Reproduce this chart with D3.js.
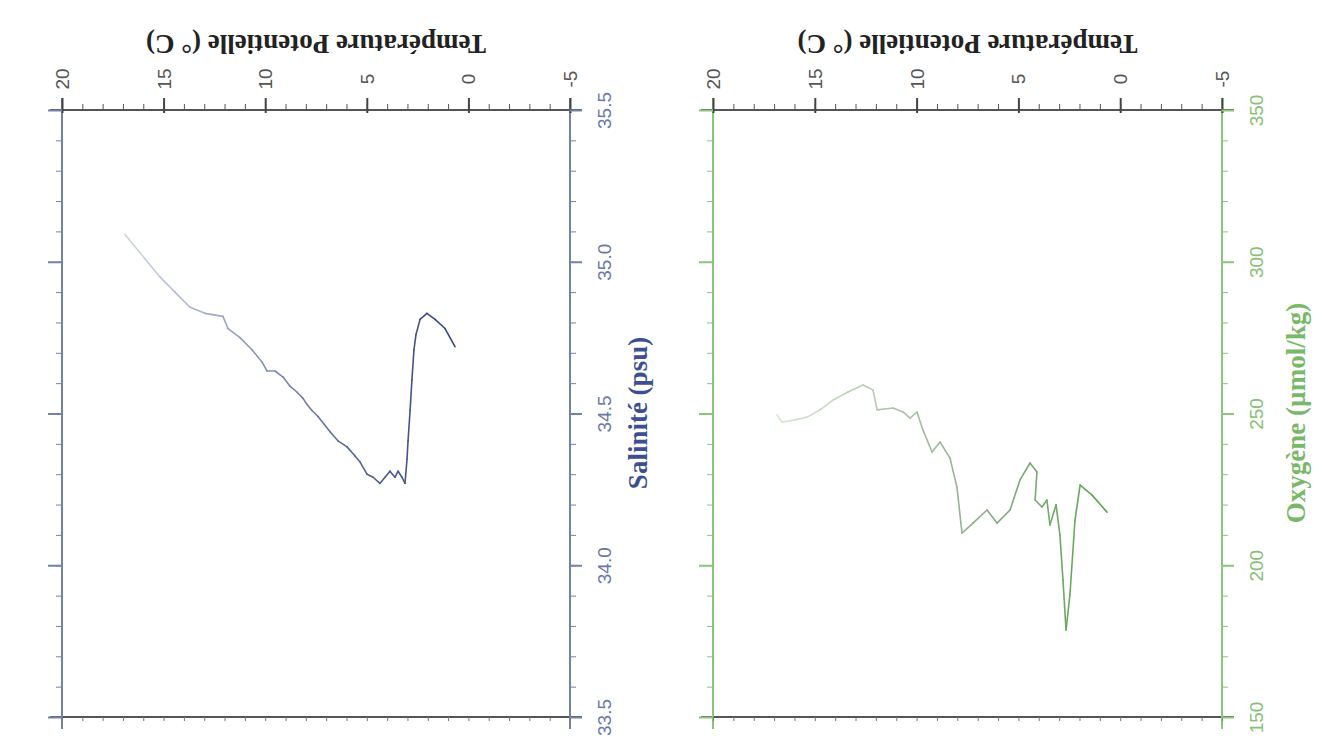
<!DOCTYPE html>
<html><head><meta charset="utf-8">
<script src="https://cdn.jsdelivr.net/npm/d3@7"></script>
<style>html,body{margin:0;padding:0;background:#fff;}svg{display:block;}</style>
</head><body>
<svg id="chart" width="1319" height="753"></svg>
<script>
// ---- Data ----
const tempTicks = [20, 15, 10, 5, 0, -5];
const salTicks = [35.5, 35.0, 34.5, 34.0, 33.5];
const oxyTicks = [350, 300, 250, 200, 150];

const salTemp = [16.90,15.92,15.18,14.44,13.70,12.96,12.08,11.83,11.24,10.65,10.16,9.91,9.52,9.12,8.78,8.43,8.14,7.94,7.70,7.40,6.81,6.42,5.97,5.58,5.33,4.99,4.69,4.35,4.10,3.86,3.61,3.46,3.27,3.12,3.02,2.97,2.87,2.78,2.68,2.58,2.38,2.04,1.64,1.15,0.66];
const salinity = [35.09,35.01,34.95,34.90,34.85,34.83,34.82,34.78,34.75,34.71,34.67,34.64,34.64,34.62,34.59,34.57,34.55,34.53,34.51,34.49,34.44,34.41,34.39,34.36,34.34,34.30,34.29,34.27,34.29,34.31,34.29,34.31,34.29,34.27,34.35,34.41,34.51,34.61,34.71,34.76,34.81,34.83,34.81,34.78,34.72];

const oxyTemp = [16.86,16.61,15.97,15.38,14.74,14.11,13.37,12.63,12.14,11.94,11.16,10.67,10.32,9.98,9.69,9.24,8.85,8.36,8.02,7.77,7.23,6.54,6.05,5.41,4.92,4.43,4.09,4.18,3.84,3.60,3.45,3.15,2.96,2.81,2.66,2.47,2.22,1.97,1.38,0.65];
const oxygen = [249.5,247.2,247.9,248.8,251.2,254.4,257.1,259.4,257.7,251.2,251.8,250.5,248.5,250.5,244.6,237.3,240.6,235.3,225.8,210.6,213.9,218.2,213.9,218.2,228.1,233.7,230.7,221.5,219.2,221.5,213.3,219.9,210.0,195.1,178.7,190.2,214.9,226.4,223.1,217.5];

const svg = d3.select("#chart");

function panel(opt) {
  const g = svg.append("g");
  const x = d3.scaleLinear().domain([20, -5]).range([opt.x0, opt.x1]);
  const y = d3.scaleLinear().domain(opt.ydom).range([110, 717]);
  const top = 110, bot = 717;
  const ov = 12;

  // frame lines with overshoot
  g.append("line").attr("x1", opt.x0 - ov).attr("x2", opt.x1 + ov).attr("y1", top).attr("y2", top)
    .attr("stroke", "#555").attr("stroke-width", 2);
  g.append("line").attr("x1", opt.x0 - ov).attr("x2", opt.x1 + ov).attr("y1", bot).attr("y2", bot)
    .attr("stroke", "#555").attr("stroke-width", 2);
  g.append("line").attr("x1", opt.x0).attr("x2", opt.x0).attr("y1", top - ov).attr("y2", bot + ov)
    .attr("stroke", opt.axisCol).attr("stroke-width", 2);
  g.append("line").attr("x1", opt.x1).attr("x2", opt.x1).attr("y1", top - ov).attr("y2", bot + ov)
    .attr("stroke", opt.axisCol).attr("stroke-width", 2);

  const minorT = d3.range(-5, 21, 1);
  // top temp axis
  const tTop = g.append("g").attr("transform", `translate(0,${top})`)
    .call(d3.axisTop(x).tickValues(minorT).tickSize(6).tickFormat(""));
  tTop.select(".domain").remove();
  tTop.selectAll("line").attr("stroke", "#555");
  const tTopMaj = g.append("g").attr("transform", `translate(0,${top})`)
    .call(d3.axisTop(x).tickValues(tempTicks).tickSize(12).tickFormat(d => String(d)));
  tTopMaj.select(".domain").remove();
  tTopMaj.selectAll("line").attr("stroke", "#444").attr("stroke-width", 2).attr("y2", -12).attr("y1", 3);
  tTopMaj.selectAll("text")
    .attr("font-family", "Liberation Sans, Arial, sans-serif").attr("font-size", 19).attr("fill", "#555")
    .attr("x", null).attr("y", null).attr("dy", null)
    .attr("text-anchor", "middle").attr("dominant-baseline", "central")
    .attr("transform", "translate(0,-31) rotate(-90)");
  // bottom mirror
  const tBot = g.append("g").attr("transform", `translate(0,${bot})`)
    .call(d3.axisBottom(x).tickValues(minorT).tickSize(4).tickFormat(""));
  tBot.select(".domain").remove();
  tBot.selectAll("line").attr("stroke", "#777");

  // value axes
  const minorV = d3.range(opt.ydom[1], opt.ydom[0] + opt.minorStep / 2, opt.minorStep);
  const vR = g.append("g").attr("transform", `translate(${opt.x1},0)`)
    .call(d3.axisRight(y).tickValues(minorV).tickSize(6).tickFormat(""));
  vR.select(".domain").remove();
  vR.selectAll("line").attr("stroke", opt.axisCol);
  const vRMaj = g.append("g").attr("transform", `translate(${opt.x1},0)`)
    .call(d3.axisRight(y).tickValues(opt.ticks).tickSize(12).tickFormat(opt.fmt));
  vRMaj.select(".domain").remove();
  vRMaj.selectAll("line").attr("stroke", opt.axisCol).attr("stroke-width", 2);
  vRMaj.selectAll("text")
    .attr("font-family", "Liberation Sans, Arial, sans-serif").attr("font-size", 19).attr("fill", opt.labelCol)
    .attr("x", null).attr("dy", null).attr("text-anchor", "middle").attr("dominant-baseline", "central")
    .attr("transform", "translate(34,0) rotate(-90)");
  const vL = g.append("g").attr("transform", `translate(${opt.x0},0)`)
    .call(d3.axisLeft(y).tickValues(minorV).tickSize(6).tickFormat(""));
  vL.select(".domain").remove();
  vL.selectAll("line").attr("stroke", opt.axisCol);
  const vLMaj = g.append("g").attr("transform", `translate(${opt.x0},0)`)
    .call(d3.axisLeft(y).tickValues(opt.ticks).tickSize(14).tickFormat(""));
  vLMaj.select(".domain").remove();
  vLMaj.selectAll("line").attr("stroke", opt.axisCol).attr("stroke-width", 2);

  // titles
  const cx = (opt.x0 + opt.x1) / 2;
  g.append("text").attr("transform", `translate(${cx},44) rotate(180)`)
    .attr("text-anchor", "middle").attr("dominant-baseline", "central")
    .attr("font-family", "Liberation Serif, Times New Roman, serif").attr("font-weight", "bold")
    .attr("font-size", 27).attr("fill", "#222").text("Température Potentielle (° C)");
  g.append("text").attr("transform", `translate(${opt.x1 + opt.titleDx},413) rotate(-90)`)
    .attr("text-anchor", "middle").attr("dominant-baseline", "central")
    .attr("font-family", "Liberation Serif, Times New Roman, serif").attr("font-weight", "bold")
    .attr("font-size", 27).attr("fill", opt.titleCol).text(opt.title);

  // data line, coloured by temperature
  const col = d3.scaleLinear().domain([0.5, 6, 17]).range(opt.lineCols).interpolate(d3.interpolateRgb);
  const tv = opt.temp, vv = opt.vals;
  for (let i = 0; i < tv.length - 1; i++) {
    const tm = (tv[i] + tv[i + 1]) / 2;
    g.append("line")
      .attr("x1", x(tv[i])).attr("y1", y(vv[i]))
      .attr("x2", x(tv[i + 1])).attr("y2", y(vv[i + 1]))
      .attr("stroke", col(tm)).attr("stroke-width", 1.6).attr("stroke-linecap", "round");
  }
}

panel({
  x0: 62, x1: 570, ydom: [35.5, 33.5], ticks: salTicks, minorStep: 0.1,
  fmt: d3.format(".1f"), axisCol: "#7482aa", labelCol: "#6a78a8",
  title: "Salinité (psu)", titleCol: "#3c5090", titleDx: 68,
  temp: salTemp, vals: salinity, lineCols: ["#34447c", "#5a6898", "#d4d8e6"]
});
panel({
  x0: 713, x1: 1222, ydom: [350, 150], ticks: oxyTicks, minorStep: 10,
  fmt: d => String(d), axisCol: "#8cc47c", labelCol: "#86c076",
  title: "Oxygène (µmol/kg)", titleCol: "#78b868", titleDx: 74,
  temp: oxyTemp, vals: oxygen, lineCols: ["#5aa84a", "#8aa888", "#d6e8d2"]
});
</script>
</body></html>
